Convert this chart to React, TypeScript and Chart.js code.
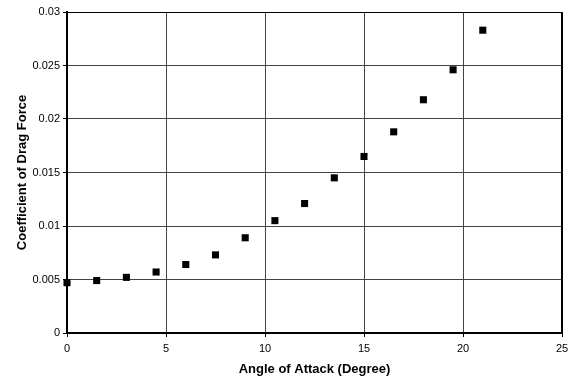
import React, { useEffect, useRef } from "react";
import { Chart, registerables } from "chart.js";

Chart.register(...registerables);

const angles = [0, 1.5, 3, 4.5, 6, 7.5, 9, 10.5, 12, 13.5, 15, 16.5, 18, 19.5, 21];
const dragCoeff = [
  0.0047, 0.0049, 0.0052, 0.0057, 0.0064, 0.0073, 0.0089, 0.0105, 0.0121, 0.0145,
  0.0165, 0.0188, 0.0218, 0.0246, 0.0283,
];
const xTitle = "Angle of Attack (Degree)";
const yTitle = "Coefficient of Drag Force";

const FONT = "Arial, 'Liberation Sans', sans-serif";

const frame = {
  id: "frame",
  afterDraw(chart: any) {
    const { ctx, chartArea: a } = chart;
    ctx.save();
    ctx.strokeStyle = "#000";
    ctx.lineWidth = 2;
    ctx.beginPath();
    ctx.moveTo(a.right, a.top);
    ctx.lineTo(a.right, a.bottom);
    ctx.stroke();
    ctx.lineWidth = 1;
    ctx.beginPath();
    ctx.moveTo(a.left, a.top + 0.5);
    ctx.lineTo(a.right, a.top + 0.5);
    ctx.stroke();
    ctx.restore();
  },
};

export default function App() {
  const ref = useRef<HTMLCanvasElement>(null);
  useEffect(() => {
    const chart = new Chart(ref.current!, {
      type: "scatter",
      data: {
        datasets: [
          {
            data: angles.map((x, i) => ({ x, y: dragCoeff[i] })),
            pointStyle: "rect",
            pointRadius: 5,
            pointBorderWidth: 0,
            backgroundColor: "#000",
            borderColor: "#000",
            clip: false,
          },
        ],
      },
      options: {
        animation: false,
        responsive: false,
        maintainAspectRatio: false,
        layout: { padding: { top: 12, right: 15, left: 0, bottom: 0 } },
        plugins: { legend: { display: false }, tooltip: { enabled: false } },
        scales: {
          x: {
            type: "linear",
            min: 0,
            max: 25,
            afterFit: (s: any) => {
              s.height = 45;
            },
            ticks: { stepSize: 5, color: "#000", padding: 5, font: { family: FONT, size: 11 } },
            grid: { color: "#444", lineWidth: 1, tickLength: 4, tickColor: "#000" },
            border: { color: "#000", width: 2 },
            title: {
              display: true,
              text: xTitle,
              color: "#000",
              padding: { top: 0, bottom: 1 },
              font: { family: FONT, size: 13, weight: "bold" },
            },
          },
          y: {
            type: "linear",
            min: 0,
            max: 0.03,
            afterFit: (s: any) => {
              s.width = 67;
            },
            ticks: {
              stepSize: 0.005,
              color: "#000",
              padding: 3,
              font: { family: FONT, size: 11 },
              callback: (v: any) => String(Number(Number(v).toFixed(4))),
            },
            grid: { color: "#444", lineWidth: 1, tickLength: 4, tickColor: "#000" },
            border: { color: "#000", width: 2 },
            title: {
              display: true,
              text: yTitle,
              color: "#000",
              padding: { top: 15, bottom: 0 },
              font: { family: FONT, size: 13, weight: "bold" },
            },
          },
        },
      },
      plugins: [frame],
    });
    return () => chart.destroy();
  }, []);
  return (
    <div style={{ position: "fixed", left: 0, top: 0, width: 577, height: 378, background: "#fff" }}>
      <canvas ref={ref} width={577} height={378} style={{ width: 577, height: 378, display: "block" }} />
    </div>
  );
}
